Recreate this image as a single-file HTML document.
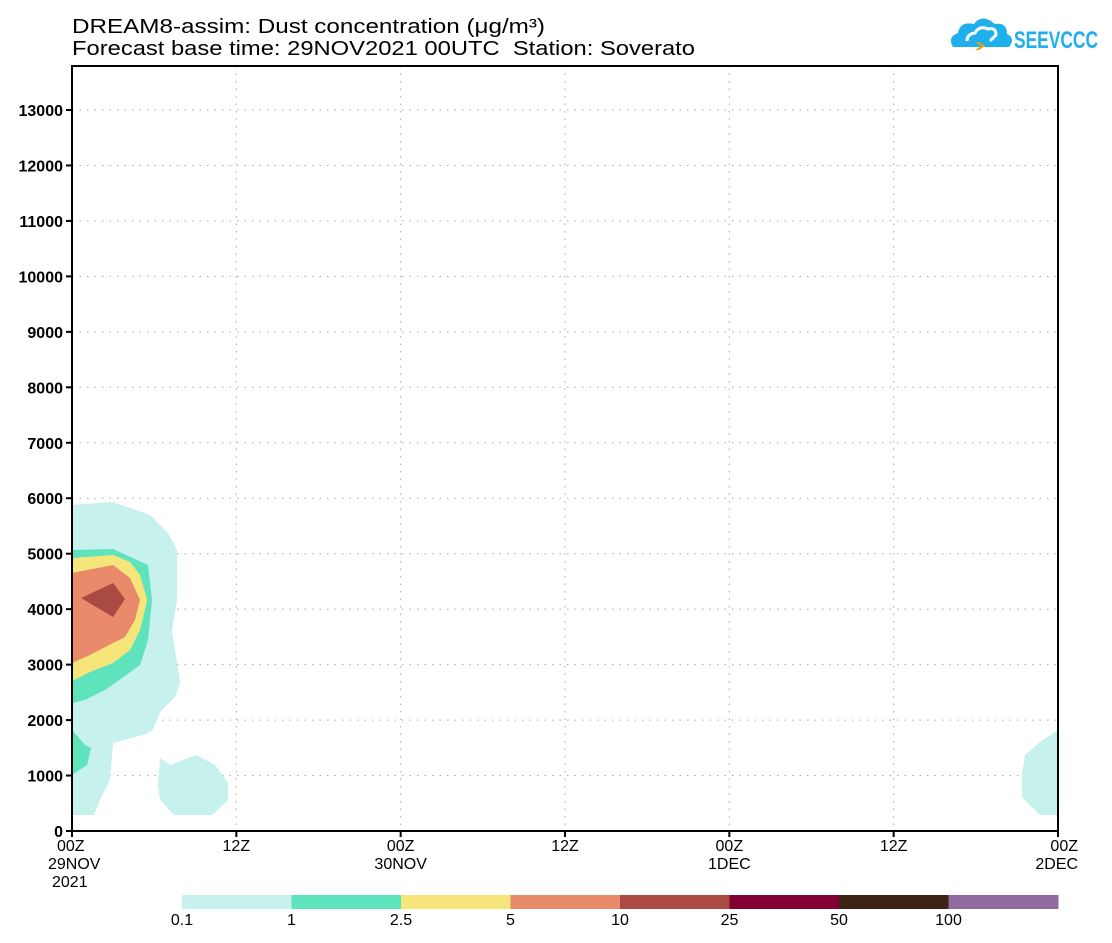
<!DOCTYPE html>
<html><head><meta charset="utf-8"><style>
body{margin:0;background:#fff;width:1112px;height:943px;overflow:hidden}
svg{display:block;font-family:"Liberation Sans",sans-serif}
</style></head><body>
<svg id="chart" width="1112" height="943">
<text x="72" y="33" font-size="20" textLength="473" lengthAdjust="spacingAndGlyphs">DREAM8-assim: Dust concentration (μg/m³)</text>
<text x="72" y="55" font-size="20" textLength="623" lengthAdjust="spacingAndGlyphs" xml:space="preserve">Forecast base time: 29NOV2021 00UTC  Station: Soverato</text>
<g>
<path d="M953,47 q-6,-10 5,-14 q2,-12 16,-9 q8,-11 21,0 q12,-2 12,10 q9,4 2,13 z" fill="#1fb0ec"/>
<path d="M967,41 q0,-7 8,-8 q4,-8 13,-4 q8,-2 8,6 l-6,6" fill="none" stroke="#fff" stroke-width="3"/>
<path d="M975,42 l6,4 l-6,4 l4,0 l6,-4 l-6,-4 z" fill="#e8a21a"/>
<text x="1014" y="48" font-size="24" font-weight="bold" fill="#1fb0ec" textLength="84" lengthAdjust="spacingAndGlyphs">SEEVCCC</text>
</g>
<g id="grid"></g><g id="fills"></g><g id="axes"></g><g id="cbar"></g>
</svg>
<script>
const levels=[0.1,1,2.5,5,10,25,50,100];
const levelColors=["#c6f1ec","#5ee3bc","#f5e57a","#e98b6a","#a94b42","#820033","#3c2415","#8f6aa0"];
const yTicks=[0,1000,2000,3000,4000,5000,6000,7000,8000,9000,10000,11000,12000,13000];
const xTickHours=[0,12,24,36,48,60,72];
const xTickLabels=["00Z","12Z","00Z","12Z","00Z","12Z","00Z"];
const xDateLabels=["29NOV","","30NOV","","1DEC","","2DEC"];
// contour polygons: [hour, height m], with level index
const polyLevel=[0,0,0,1,1,2,3,4];
const polyHours=[
[0,3,5.7,7,7.67,7.67,7.3,7.52,7.9,7.52,6.43,5.9,5.4,3,2.77,2.04,1.6,0],
[6.43,7.16,9.06,10.45,11.4,11.4,10.23,7.45,6.43,6.28],
[72,70.69,69.6,69.36,69.36,70.69,72],
[0,3,5.55,5.84,5.55,4.97,3.87,2.41,0.95,0],
[0,0.95,1.39,1.1,0],
[0,3,4.24,4.97,5.5,4.97,4.24,3,1.31,0],
[0,3,4.24,4.97,4.6,3.87,3,1.31,0],
[0.66,3,3.87,3]];
const polyHeights=[
[5878,5932,5698,5373,5067,4165,3624,3264,2669,2416,2146,1821,1749,1587,920,559,288,288],
[1316,1190,1370,1190,866,559,288,288,559,830],
[1821,1605,1370,1010,613,288,288],
[5067,5085,4796,4165,3444,2993,2795,2543,2362,2308],
[1821,1551,1497,1190,1010],
[4922,4977,4850,4616,4165,3624,3264,3029,2867,2705],
[4652,4796,4562,4165,3805,3498,3390,3173,3029],
[4201,4472,4183,3859]];
const X0=72,X1=1058,Y0=831,Y13=110;
const xs=h=>X0+h*(X1-X0)/72;
const ys=m=>Y0-m*(Y0-Y13)/13000;
const NS="http://www.w3.org/2000/svg";
function mk(p,t,a){const e=document.createElementNS(NS,t);for(const k in a)e.setAttribute(k,a[k]);p.appendChild(e);return e;}
const grid=document.getElementById('grid'),fills=document.getElementById('fills'),axes=document.getElementById('axes'),cbar=document.getElementById('cbar');
yTicks.forEach(v=>{if(v===0)return;const l=mk(grid,'line',{x1:X0,x2:X1,y1:ys(v),y2:ys(v),stroke:'#aaa','stroke-dasharray':'1.5,6'});

});
xTickHours.forEach(h=>{if(h===0||h===72)return;const l=mk(grid,'line',{x1:xs(h),x2:xs(h),y1:66,y2:Y0,stroke:'#aaa','stroke-dasharray':'1.5,6'});

});
polyHours.forEach((hs,i)=>{const pts=hs.map((h,j)=>xs(h)+','+ys(polyHeights[i][j])).join(' ');
const p=mk(fills,'polygon',{points:pts,fill:levelColors[polyLevel[i]]});

});
const fr=mk(axes,'rect',{x:X0,y:66,width:X1-X0,height:Y0-66,fill:'none',stroke:'#000','stroke-width':2});


yTicks.forEach(v=>{mk(axes,'line',{x1:X0-6,x2:X0,y1:ys(v),y2:ys(v),stroke:'#000','stroke-width':2});
const t=mk(axes,'text',{x:X0-9,y:ys(v)+6,'font-size':16,'font-weight':'bold','text-anchor':'end'});t.textContent=v;

});
xTickHours.forEach((h,i)=>{mk(axes,'line',{x1:xs(h),x2:xs(h),y1:Y0,y2:Y0+6,stroke:'#000','stroke-width':2});
const anc=i===0?'start':(i===6?'end':'middle');const xx=i===0?X0-15:(i===6?X1+20:xs(h));
const t=mk(axes,'text',{x:xx,y:851,'font-size':16,'text-anchor':anc});t.textContent=xTickLabels[i];


if(xDateLabels[i]){const dx=i===0?X0-24:xx;const d=mk(axes,'text',{x:dx,y:869,'font-size':16,'text-anchor':anc});d.textContent=xDateLabels[i];

}});
const yr=mk(axes,'text',{x:X0-20,y:887,'font-size':16});yr.textContent='2021';


const cw=(1058-182)/levels.length;
levels.forEach((lv,i)=>{const r=mk(cbar,'rect',{x:182+i*cw,y:895,width:cw+0.5,height:14,fill:levelColors[i]});


const t=mk(cbar,'text',{x:182+i*cw,y:925,'font-size':16,'text-anchor':'middle'});t.textContent=lv;

});
</script>
</body></html>
